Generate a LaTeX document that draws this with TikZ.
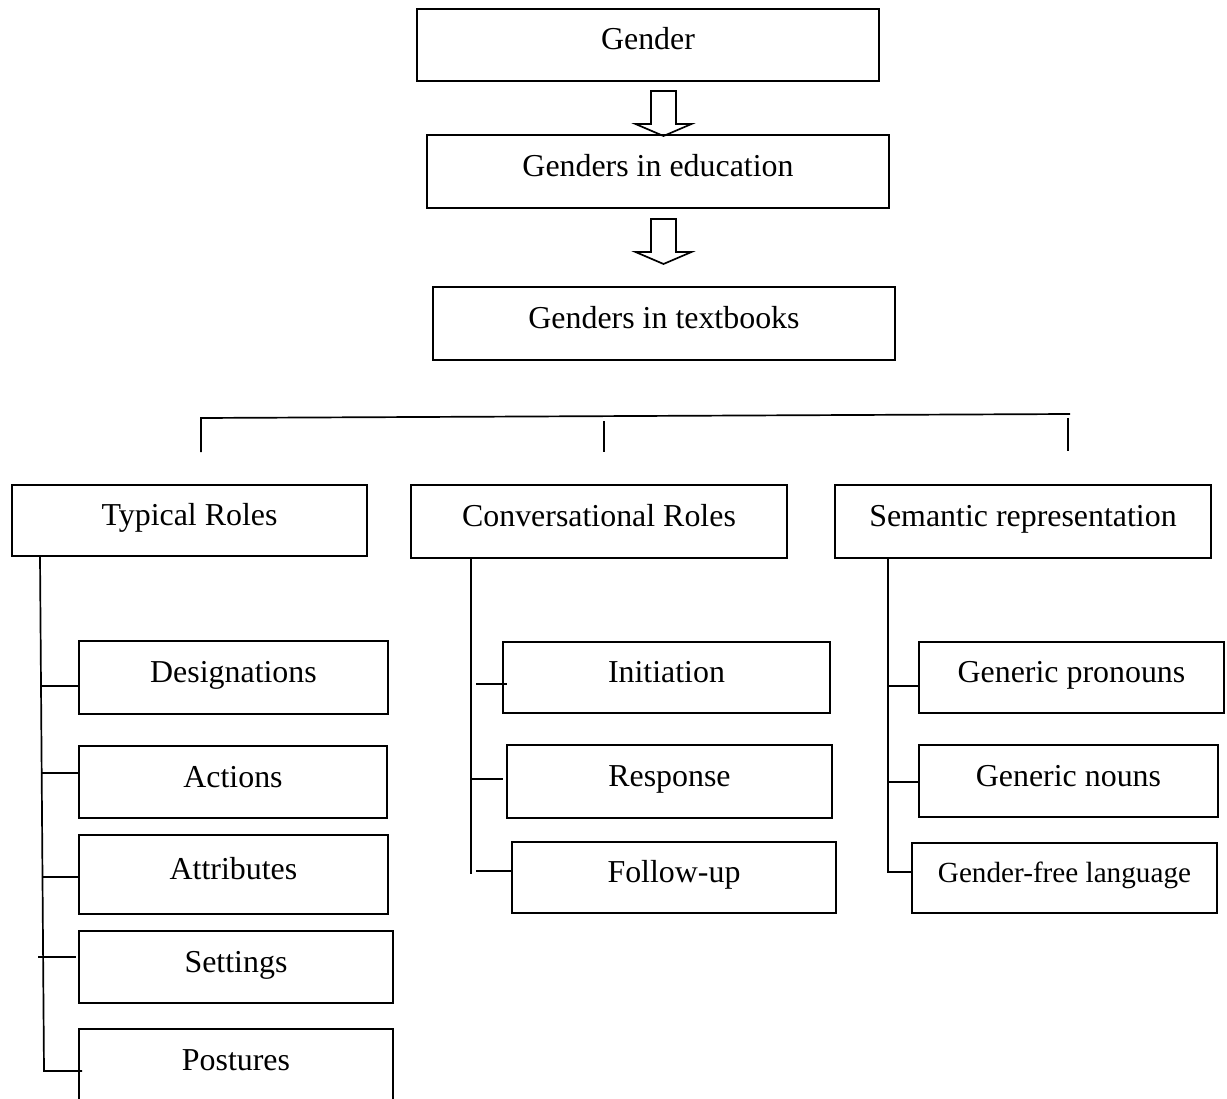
\documentclass[tikz,border=0pt]{standalone}
\usepackage{fontspec}
\setmainfont{Liberation Serif}
\begin{document}
\begin{tikzpicture}[x=1pt,y=-1pt,
  bx/.style={draw, line width=1.8pt, inner sep=0pt, text height=22pt, text depth=12pt,
    font=\fontsize{31.9}{38}\selectfont},
  smallbx/.style={bx, text height=20pt, text depth=11pt, font=\fontsize{29.2}{35}\selectfont},
  ln/.style={line width=1.7pt},
  pics/hollowarrow/.style={code={
    \draw[ln, line join=miter] (-12.5,0) -- (12.5,0) -- (12.5,33) -- (28,33) -- (0,45) -- (-28,33) -- (-12.5,33) -- cycle;}}]
\clip (0,0) rectangle (1227,1099);
% top chain
\node[bx, minimum width=462pt, minimum height=72pt] (g) at (648,45) {Gender};
\node[bx, minimum width=462pt, minimum height=73pt] (edu) at (658,171.5) {Genders in education};
\node[bx, minimum width=462pt, minimum height=73pt] (tb) at (664,323.5) {Genders in textbooks};
\pic at (663.5,91) {hollowarrow};
\pic at (663.5,219) {hollowarrow};
% level 2
\node[bx, minimum width=355pt, minimum height=71pt] (tr) at (189.5,520.5) {Typical Roles};
\node[bx, minimum width=376pt, minimum height=73pt] (cr) at (599,521.5) {Conversational Roles};
\node[bx, minimum width=376pt, minimum height=73pt] (sr) at (1023,521.5) {Semantic representation};
% bracket
\coordinate (hl) at (201,418);
\coordinate (hr) at (1070,414);
\draw[ln] (201,452) -- (hl) -- (hr);
\draw[ln] (604,421) -- (604,452);
\draw[ln] (1068,418) -- (1068,451);
% typical roles children
\node[bx, minimum width=309pt, minimum height=73pt] (des) at (233.5,677.5) {Designations};
\node[bx, minimum width=308pt, minimum height=72pt] (act) at (233,782) {Actions};
\node[bx, minimum width=309pt, minimum height=79pt] (att) at (233.5,874.5) {Attributes};
\node[bx, minimum width=314pt, minimum height=72pt] (set) at (236,967) {Settings};
\node[bx, minimum width=314pt, minimum height=72pt] (pos) at (236,1065) {Postures};
\coordinate (la) at (40,556);
\coordinate (lb) at (44,1071);
\draw[ln] (la) -- (lb) -- (82,1071);
\draw[ln] (41,686) -- (des.west |- 0,686);
\draw[ln] (41,773) -- (act.west |- 0,773);
\draw[ln] (42,877) -- (att.west |- 0,877);
\draw[ln] (38,957) -- (76,957);
% conversational roles children
\node[bx, minimum width=327pt, minimum height=71pt] (ini) at (666.5,677.5) {Initiation};
\node[bx, minimum width=325pt, minimum height=73pt] (res) at (669.5,781.5) {Response};
\node[bx, minimum width=324pt, minimum height=71pt] (fol) at (674,877.5) {Follow-up};
\coordinate (ma) at (471,558);
\coordinate (mb) at (471,874);
\draw[ln] (ma) -- (mb);
\draw[ln] (476,684) -- (507,684);
\draw[ln] (471,779) -- (503,779);
\draw[ln] (476,871) -- (fol.west |- 0,871);
% semantic representation children
\node[bx, minimum width=305pt, minimum height=71pt] (gp) at (1071.5,677.5) {Generic pronouns};
\node[bx, minimum width=299pt, minimum height=72pt] (gn) at (1068.5,781) {Generic nouns};
\node[smallbx, minimum width=305pt, minimum height=70pt] (gf) at (1064.5,878) {Gender-free language};
\coordinate (ra) at (888,558);
\coordinate (rb) at (888,872);
\draw[ln] (ra) -- (rb) -- (gf.west |- 0,872);
\draw[ln] (888,686) -- (gp.west |- 0,686);
\draw[ln] (888,782) -- (gn.west |- 0,782);
\end{tikzpicture}
\end{document}
